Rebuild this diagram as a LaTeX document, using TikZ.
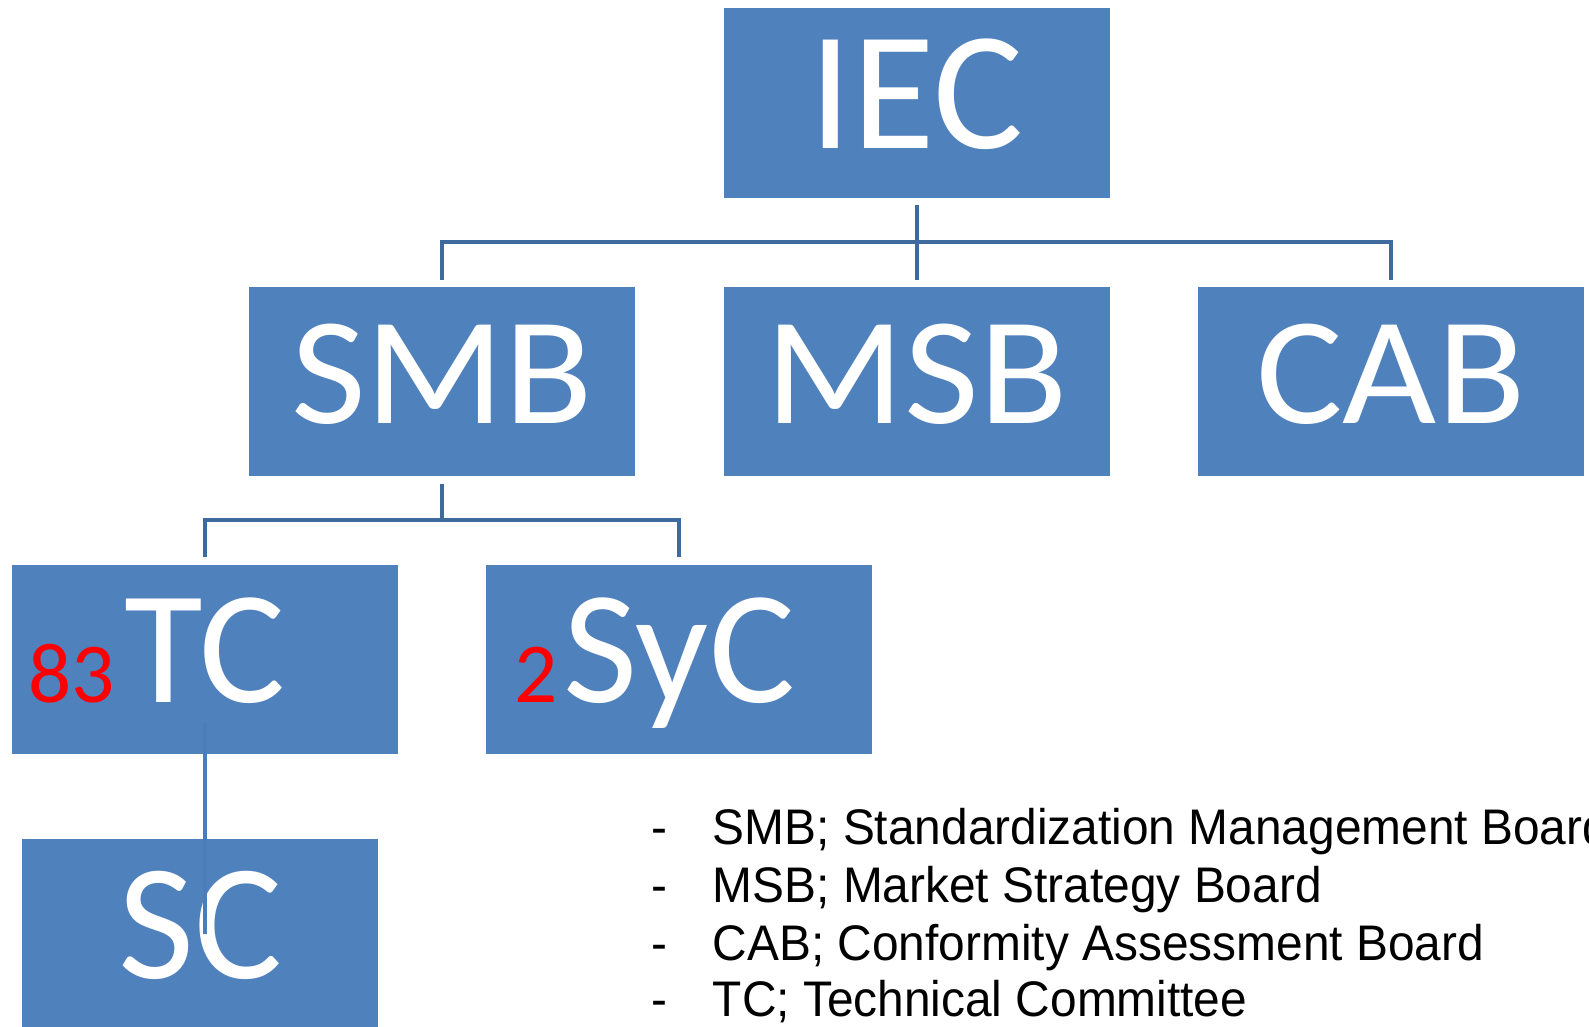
\documentclass[tikz,border=0pt]{standalone}
\usepackage{fontspec}
\setmainfont{Carlito}
\newfontfamily\legendfont[FakeStretch=0.957]{Liberation Sans}
\newfontfamily\boardfont[FakeStretch=1.06]{Carlito}
\usetikzlibrary{calc}
\definecolor{boxblue}{HTML}{4F81BD}
\definecolor{connblue}{HTML}{3F6A9D}
\definecolor{tcline}{HTML}{4A7DBA}
\definecolor{numred}{HTML}{FF0000}
\begin{document}
\begin{tikzpicture}[x=0.75pt,y=-0.75pt,
  box/.style={fill=boxblue, draw=none, inner sep=0pt, text=white, text depth=0pt,
    minimum width=289.5pt, minimum height=142.1pt},
  iecfont/.style={font=\fontsize{126.75pt}{130pt}\selectfont, text height=69pt},
  boardtext/.style={font=\boardfont\fontsize{115pt}{118pt}\selectfont, text height=63pt},
  tcfont/.style={font=\fontsize{121pt}{124pt}\selectfont, text height=64.5pt},
  scfont/.style={font=\fontsize{124pt}{127pt}\selectfont, text height=66.4pt},
  numlabel/.style={font=\fontsize{64pt}{66pt}\selectfont, text=numred, inner sep=0pt, anchor=base east},
  conn/.style={draw=connblue, line width=3pt},
  tcsc/.style={draw=tcline, line width=3pt},
  legend/.style={font=\legendfont\fontsize{37.5pt}{40pt}\selectfont, inner sep=0pt, anchor=base west}]
\useasboundingbox (0,0) rectangle (1589,1026);
\clip (0,0) rectangle (1589,1026);
% boxes
\node[box, iecfont] (iec) at (916.6,102.85) {IEC};
\node[box, boardtext] (smb) at (442.3,381.5) {SMB};
\node[box, boardtext] (msb) at (916.6,381.5) {MSB};
\node[box, boardtext] (cab) at (1390.9,381.5) {CAB};
\node[box, tcfont] (tc) at (205.2,659.3) {TC};
\node[box, tcfont] (syc) at (679.4,659.3) {SyC};
\node[box, scfont, minimum width=266.8pt] (sc) at (200.2,933.75) {SC};
% red counts
\node[numlabel] (tcnum) at (115,702) {83};
\node[numlabel] (sycnum) at (558,702) {2};
% connectors
\draw[conn] ($(iec.south)+(0,7)$) -- ($(msb.north)+(0,-7)$);
\draw[conn] ($(smb.north)+(0,-7)$) |- ($(iec.south)+(0,44.6)$) -| ($(cab.north)+(0,-7)$);
\draw[conn] ($(smb.south)+(0,7)$) -- ($(smb.south)+(0,43.6)$);
\draw[conn] ($(tc.north)+(0,-7)$) |- ($(smb.south)+(0,43.6)$) -| ($(syc.north)+(0,-7)$);
\draw[tcsc] ($(tc.center)+(0,64)$) -- (tc.center |- sc.center);
% legend
\node[legend] (d1) at (651,844) {-};
\node[legend] (l1) at (712.5,844) {SMB; Standardization Management Board};
\node[legend] (d2) at (651,902) {-};
\node[legend] (l2) at (712.5,902) {MSB; Market Strategy Board};
\node[legend] (d3) at (651,960) {-};
\node[legend] (l3) at (712.5,960) {CAB; Conformity Assessment Board};
\node[legend] (d4) at (651,1016.5) {-};
\node[legend] (l4) at (712.5,1016.5) {TC; Technical Committee};
\end{tikzpicture}
\end{document}
